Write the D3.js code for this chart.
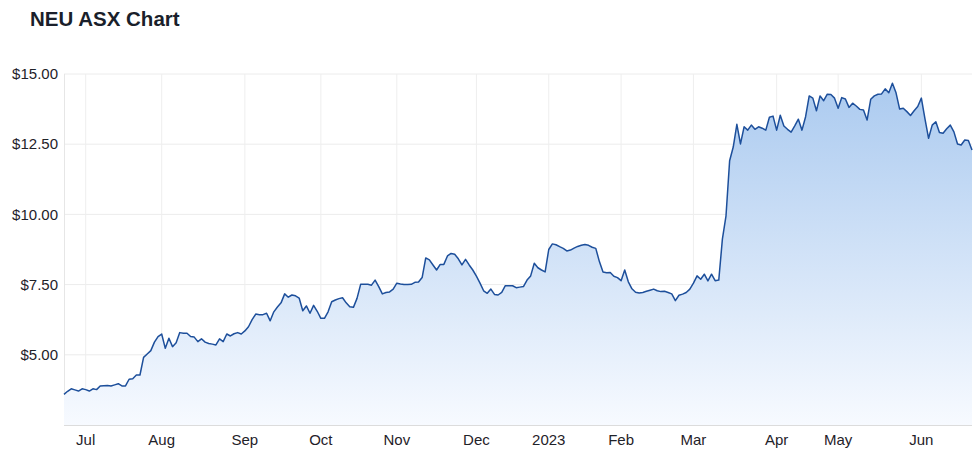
<!DOCTYPE html>
<html>
<head>
<meta charset="utf-8">
<script src="https://cdn.jsdelivr.net/npm/d3@7"></script>
<style>
  body { margin: 0; background: #fff; }
  text { font-family: "Liberation Sans", Arial, sans-serif; }
</style>
</head>
<body>
<div id="chart"></div>
<script>
// closing prices, one per trading day (late Jun 2022 - late Jun 2023)
var prices = [
  3.59, 3.70, 3.79, 3.75, 3.71, 3.79, 3.76, 3.71, 3.79, 3.76,
  3.89, 3.90, 3.91, 3.89, 3.93, 3.97, 3.89, 3.89, 4.13, 4.15,
  4.28, 4.28, 4.91, 5.03, 5.15, 5.45, 5.65, 5.74, 5.23, 5.59,
  5.29, 5.43, 5.79, 5.77, 5.77, 5.65, 5.63, 5.47, 5.57, 5.45,
  5.40, 5.38, 5.35, 5.57, 5.47, 5.74, 5.67, 5.75, 5.79, 5.74,
  5.85, 6.00, 6.25, 6.45, 6.43, 6.43, 6.48, 6.21, 6.53, 6.70,
  6.85, 7.17, 7.05, 7.13, 7.10, 7.02, 6.57, 6.74, 6.48, 6.76,
  6.55, 6.30, 6.30, 6.53, 6.89, 6.95, 7.00, 7.03, 6.85, 6.71,
  6.69, 7.01, 7.51, 7.51, 7.51, 7.48, 7.66, 7.43, 7.17, 7.22,
  7.24, 7.34, 7.55, 7.52, 7.50, 7.50, 7.51, 7.58, 7.59, 7.75,
  8.45, 8.38, 8.20, 8.02, 8.22, 8.22, 8.52, 8.61, 8.58, 8.42,
  8.20, 8.40, 8.20, 8.02, 7.80, 7.55, 7.28, 7.19, 7.34, 7.15,
  7.13, 7.22, 7.46, 7.46, 7.46, 7.39, 7.41, 7.43, 7.66, 7.81,
  8.26, 8.10, 8.02, 7.95, 8.75, 8.95, 8.92, 8.85, 8.79, 8.70,
  8.73, 8.80, 8.86, 8.90, 8.93, 8.90, 8.83, 8.79, 8.32, 7.95,
  7.92, 7.93, 7.80, 7.75, 7.64, 8.02, 7.60, 7.35, 7.23, 7.20,
  7.22, 7.26, 7.30, 7.34, 7.28, 7.25, 7.26, 7.22, 7.17, 6.93,
  7.12, 7.16, 7.22, 7.34, 7.55, 7.81, 7.69, 7.87, 7.63, 7.87,
  7.64, 7.66, 9.12, 9.95, 11.91, 12.40, 13.21, 12.51, 13.12, 13.00,
  13.18, 13.03, 13.12, 13.07, 13.00, 13.46, 13.50, 13.00, 13.53, 13.15,
  13.03, 12.93, 13.15, 13.39, 13.00, 13.48, 14.22, 14.14, 13.69, 14.22,
  14.05, 14.28, 14.27, 14.14, 13.78, 14.16, 14.11, 13.81, 13.96, 13.86,
  13.74, 13.72, 13.36, 14.10, 14.22, 14.28, 14.29, 14.47, 14.33, 14.67,
  14.33, 13.75, 13.78, 13.66, 13.52, 13.69, 13.84, 14.14, 13.40, 12.71,
  13.18, 13.30, 12.92, 12.89, 13.05, 13.18, 12.94, 12.51, 12.47, 12.65,
  12.63, 12.29
];

// first trading day of each month (index into prices)
var monthIdx = [6, 27, 50, 71, 92, 114, 134, 154, 174, 197, 214, 237];
var monthLabels = ["Jul", "Aug", "Sep", "Oct", "Nov", "Dec", "2023", "Feb", "Mar", "Apr", "May", "Jun"];

var yTicks = [5, 7.5, 10, 12.5, 15];

var W = 976, H = 465;
var margin = {top: 74, right: 4, bottom: 40, left: 64};
var width = W - margin.left - margin.right,
    height = H - margin.top - margin.bottom;

var svg = d3.select("#chart").append("svg")
  .attr("width", W)
  .attr("height", H);

svg.append("text")
  .attr("x", 30)
  .attr("y", 26)
  .style("font-size", "20.5px")
  .style("font-weight", "bold")
  .style("fill", "#1a1f2b")
  .text("NEU ASX Chart");

var defs = svg.append("defs");
var grad = defs.append("linearGradient")
  .attr("id", "areaGrad")
  .attr("gradientUnits", "userSpaceOnUse")
  .attr("x1", 0).attr("x2", 0)
  .attr("y1", 0).attr("y2", height);
grad.append("stop").attr("offset", "0%").attr("stop-color", "#a9c9ef");
grad.append("stop").attr("offset", "100%").attr("stop-color", "#f7faff");

var g = svg.append("g")
  .attr("transform", "translate(" + margin.left + "," + margin.top + ")");

var x = d3.scaleLinear()
  .domain([0, prices.length - 1])
  .range([0, width]);

var y = d3.scaleLinear()
  .domain([2.5, 15])
  .range([height, 0]);

// grid
g.append("g")
  .selectAll("line.hgrid")
  .data(yTicks)
  .enter().append("line")
    .attr("x1", 0).attr("x2", width)
    .attr("y1", function(d){ return y(d); })
    .attr("y2", function(d){ return y(d); })
    .style("stroke", "#ececec");

g.append("g")
  .selectAll("line.vgrid")
  .data(monthIdx)
  .enter().append("line")
    .attr("x1", function(d){ return x(d); })
    .attr("x2", function(d){ return x(d); })
    .attr("y1", 0).attr("y2", height)
    .style("stroke", "#eeeeee");

g.append("line")
  .attr("x1", 0.5).attr("x2", 0.5)
  .attr("y1", 0).attr("y2", height)
  .style("stroke", "#e6e6e6");

var area = d3.area()
  .x(function(d, i){ return x(i); })
  .y0(height)
  .y1(function(d){ return y(d); });

var line = d3.line()
  .x(function(d, i){ return x(i); })
  .y(function(d){ return y(d); });

g.append("path")
  .datum(prices)
  .attr("d", area)
  .style("fill", "url(#areaGrad)");

g.append("path")
  .datum(prices)
  .attr("d", line)
  .style("fill", "none")
  .style("stroke", "#1d4f9b")
  .style("stroke-width", 1.5)
  .style("stroke-linejoin", "round");

// bottom axis
g.append("line")
  .attr("x1", 0).attr("x2", width)
  .attr("y1", height + 0.5).attr("y2", height + 0.5)
  .style("stroke", "#dcdcdc");

g.selectAll("text.xlab")
  .data(monthIdx)
  .enter().append("text")
    .attr("x", function(d){ return x(d); })
    .attr("y", height + 20)
    .attr("text-anchor", "middle")
    .style("font-size", "15px")
    .style("fill", "#1f2229")
    .text(function(d, i){ return monthLabels[i]; });

g.selectAll("text.ylab")
  .data(yTicks)
  .enter().append("text")
    .attr("x", -6)
    .attr("y", function(d){ return y(d); })
    .attr("dy", "0.35em")
    .attr("text-anchor", "end")
    .style("font-size", "15px")
    .style("fill", "#1f2229")
    .text(function(d){ return "$" + d3.format(".2f")(d); });
</script>
</body>
</html>
